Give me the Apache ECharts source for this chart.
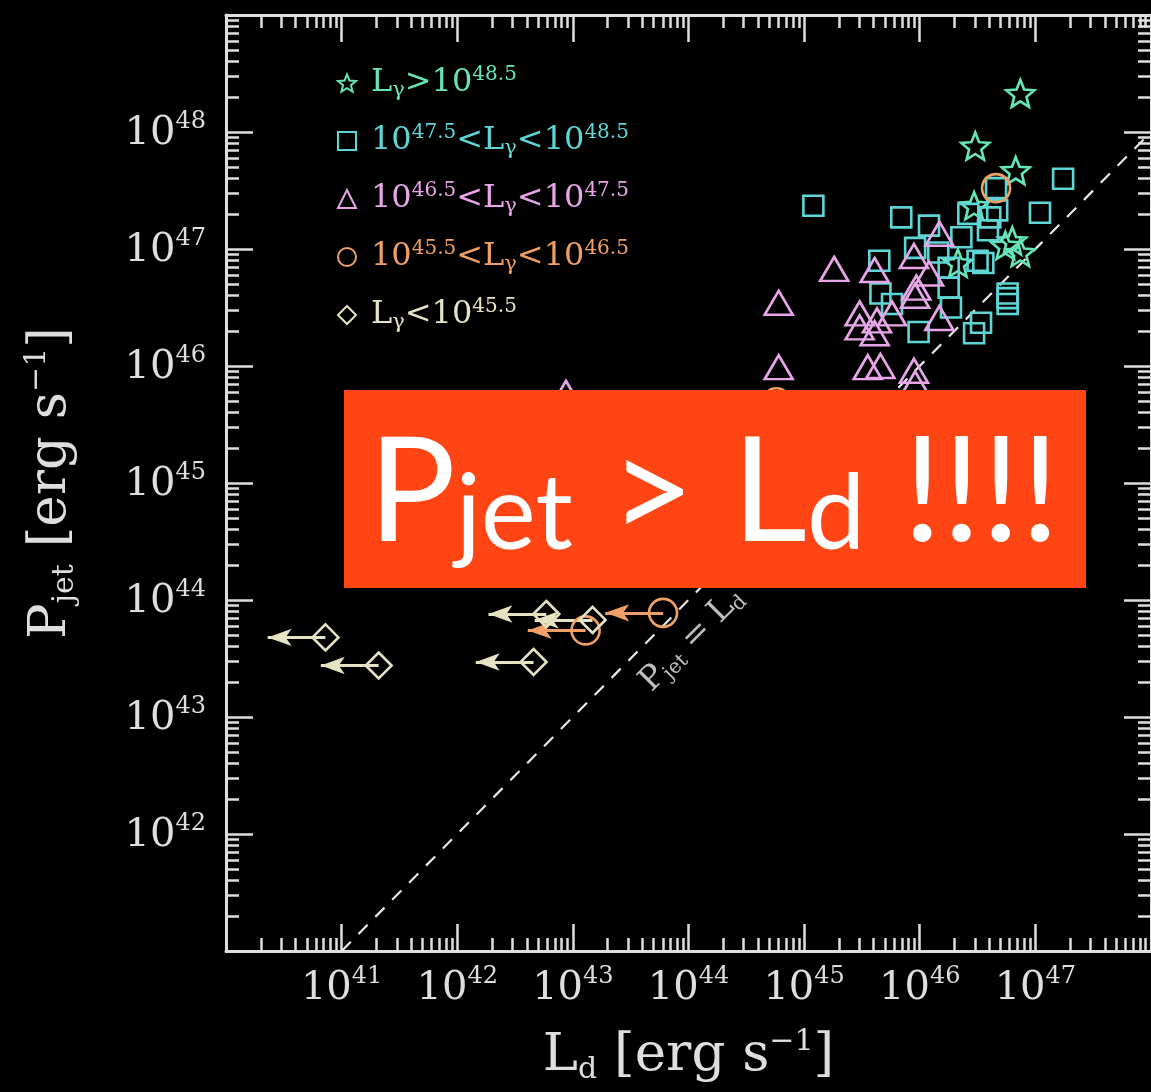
<!DOCTYPE html>
<html>
<head>
<meta charset="utf-8">
<script src="https://cdn.jsdelivr.net/npm/echarts@6/dist/echarts.min.js"></script>
<style>
  html, body { margin: 0; padding: 0; background: #000; }
  #chart { width: 1151px; height: 1092px; }
</style>
</head>
<body>
<div id="chart"></div>
<script>
// ---- data: log10 of disc luminance L_d and jet power P_jet (erg/s) ----
// L_gamma > 10^48.5
const starLogLd   = [46.87, 46.48, 46.83, 46.47, 46.80, 46.87, 46.74, 46.33];
const starLogPjet = [48.33, 47.88, 47.67, 47.37, 47.07, 46.97, 47.03, 46.88];

// 10^47.5 < L_gamma < 10^48.5
const squareLogLd   = [45.08, 47.24, 45.84, 46.08, 46.42, 46.61, 46.67, 46.59, 47.04, 46.36,
                       45.96, 46.16, 46.50, 46.55, 46.25, 45.65, 46.25, 45.66, 45.76, 46.27,
                       46.76, 46.76, 45.99, 46.53, 46.47, 46.66, 46.76];
const squareLogPjet = [47.37, 47.60, 47.27, 47.20, 47.30, 47.27, 47.33, 47.16, 47.31, 47.10,
                       47.01, 46.97, 46.90, 46.88, 46.84, 46.90, 46.67, 46.62, 46.53, 46.50,
                       46.62, 46.53, 46.29, 46.37, 46.28, 47.52, 46.58];

// 10^46.5 < L_gamma < 10^47.5
const triangleLogLd   = [44.78, 45.26, 45.61, 46.17, 45.95, 46.08, 45.97, 45.96, 45.48, 45.48,
                         45.63, 45.76, 45.61, 46.17, 44.78, 45.55, 45.66, 45.95, 45.96, 42.94];
const triangleLogPjet = [46.54, 46.83, 46.82, 47.13, 46.94, 46.79, 46.67, 46.60, 46.45, 46.33,
                         46.39, 46.45, 46.28, 46.41, 45.99, 45.99, 46.00, 45.96, 45.85, 45.77];

// 10^45.5 < L_gamma < 10^46.5 (true = L_d is an upper limit)
const circleLogLd      = [46.66, 44.76, 43.78, 43.11, 43.11, 43.55];
const circleLogPjet    = [47.52, 45.69, 43.89, 43.74, 44.24, 44.25];
const circleUpperLimit = [false, false, true, true, true, true];

// L_gamma < 10^45.5 (all L_d are upper limits)
const diamondLogLd   = [40.86, 41.32, 42.66, 43.17, 42.77];
const diamondLogPjet = [43.68, 43.44, 43.47, 43.83, 43.88];

// axis labels (exponents of 10)
const ldLabelExp   = [41, 42, 43, 44, 45, 46, 47];
const pjetLabelExp = [42, 43, 44, 45, 46, 47, 48];

// ---- styling ----
const SERIF = "'DejaVu Serif', 'Liberation Serif', serif";
const SANS = "Lato, 'Open Sans', sans-serif";
const FG = '#dedede';
const C_STAR = '#66e6b8';
const C_SQUARE = '#5ed6d6';
const C_TRIANGLE = '#e8a6e8';
const C_CIRCLE = '#f0a064';
const C_DIAMOND = '#e6e2c4';
const ARROW_DEX = 0.5;   // length of the upper-limit arrows, in decades
const STAR = 'path://M50 0 L62.93 32.2 L97.55 34.55 L70.92 56.8 L79.39 90.45 L50 72 L20.61 90.45 L29.08 56.8 L2.45 34.55 L37.07 32.2 Z';

const pow10 = v => Math.pow(10, v);
const toPoints = (lx, ly) => lx.map((v, i) => [pow10(v), pow10(ly[i])]);
function toArrows(lx, ly, flags) {
  const out = [];
  lx.forEach((v, i) => {
    if (!flags || flags[i]) {
      out.push({ coords: [[pow10(v), pow10(ly[i])], [pow10(v - ARROW_DEX), pow10(ly[i])]] });
    }
  });
  return out;
}
function decades(lo, hi) { const a = []; for (let e = lo; e <= hi; e++) a.push(pow10(e)); return a; }
function subDecades(lo, hi) {
  const a = [];
  for (let e = lo; e < hi; e++) for (let k = 2; k <= 9; k++) a.push(k * pow10(e));
  return a;
}
const expLabel = v => '{b|10}{e|' + Math.round(Math.log10(v)) + '}';
const tickRich = {
  b: { fontSize: 40, fontFamily: SERIF, color: FG, lineHeight: 44, verticalAlign: 'bottom' },
  e: { fontSize: 24, fontFamily: SERIF, color: FG, lineHeight: 24, verticalAlign: 'top' }
};
const titleRich = {
  p: { fontSize: 53, fontFamily: SERIF, color: FG, lineHeight: 58, verticalAlign: 'middle' },
  s: { fontSize: 30, fontFamily: SERIF, color: FG, lineHeight: 30, verticalAlign: 'bottom' },
  u: { fontSize: 30, fontFamily: SERIF, color: FG, lineHeight: 30, verticalAlign: 'top' }
};

function logAxis(pos, min, max, major, extra) {
  const base = {
    type: 'log', logBase: 10, position: pos, min: min, max: max,
    splitLine: { show: false },
    axisLine: { show: major, onZero: false, lineStyle: { color: FG, width: 3 } },
    axisTick: {
      show: true, inside: true, length: major ? 27 : 13,
      lineStyle: { color: FG, width: 2.5 }
    },
    axisLabel: { show: false }
  };
  return Object.assign(base, extra || {});
}

const xMin = 1e40, xMax = 1e48, yMin = 1e41, yMax = 1e49;
const xMajor = decades(40, 48), xMinor = subDecades(40, 48);
const yMajor = decades(41, 49), yMinor = subDecades(41, 49);

function withTicks(axis, values) { axis.axisTick.customValues = values; return axis; }

const xAxes = [
  withTicks(logAxis('bottom', xMin, xMax, true, {
    axisLabel: {
      show: true, customValues: ldLabelExp.map(pow10), formatter: expLabel,
      rich: tickRich, margin: 14, color: FG
    },
    name: '{p|L}{s|d}{p| [erg s}{u|−1}{p|]}',
    nameLocation: 'middle', nameGap: 76,
    nameTextStyle: { rich: titleRich }
  }), xMajor),
  withTicks(logAxis('bottom', xMin, xMax, false), xMinor),
  withTicks(logAxis('top', xMin, xMax, true), xMajor),
  withTicks(logAxis('top', xMin, xMax, false), xMinor)
];
const yAxes = [
  withTicks(logAxis('left', yMin, yMax, true, {
    axisLabel: {
      show: true, customValues: pjetLabelExp.map(pow10), formatter: expLabel,
      rich: tickRich, margin: 20, color: FG
    },
    name: '{p|P}{s|jet}{p| [erg s}{u|−1}{p|]}',
    nameLocation: 'middle', nameGap: 146, nameRotate: 90,
    nameTextStyle: { rich: titleRich }
  }), yMajor),
  withTicks(logAxis('left', yMin, yMax, false), yMinor),
  withTicks(logAxis('right', yMin, yMax, true), yMajor),
  withTicks(logAxis('right', yMin, yMax, false), yMinor)
];

// legend entries: series name -> rich label
const NAMES = {
  star: 'Lγ>10^48.5',
  square: '10^47.5<Lγ<10^48.5',
  triangle: '10^46.5<Lγ<10^47.5',
  circle: '10^45.5<Lγ<10^46.5',
  diamond: 'Lγ<10^45.5'
};
const legendText = {};
legendText[NAMES.star]     = '{g| }{m|L}{b|γ}{m|>10}{t|48.5}';
legendText[NAMES.square]   = '{g| }{m|10}{t|47.5}{m|<L}{b|γ}{m|<10}{t|48.5}';
legendText[NAMES.triangle] = '{g| }{m|10}{t|46.5}{m|<L}{b|γ}{m|<10}{t|47.5}';
legendText[NAMES.circle]   = '{g| }{m|10}{t|45.5}{m|<L}{b|γ}{m|<10}{t|46.5}';
legendText[NAMES.diamond]  = '{g| }{m|L}{b|γ}{m|<10}{t|45.5}';

function legendRich(color) {
  return {
    g: { width: 10, fontSize: 10 },
    m: { fontSize: 32, fontFamily: SERIF, color: color, lineHeight: 36, verticalAlign: 'middle' },
    b: { fontSize: 21, fontFamily: SERIF, color: color, lineHeight: 21, verticalAlign: 'bottom' },
    t: { fontSize: 20, fontFamily: SERIF, color: color, lineHeight: 20, verticalAlign: 'top' }
  };
}
const legendItem = (name, color) => ({ name: name, textStyle: { color: color, rich: legendRich(color) } });

function markerSeries(name, symbol, size, color, data) {
  return {
    type: 'scatter', name: name, symbol: symbol, symbolSize: size, data: data,
    itemStyle: { color: 'rgba(0,0,0,0)', borderColor: color, borderWidth: 2.6, opacity: 1 },
    emphasis: { disabled: true }, z: 3
  };
}
function arrowSeries(color, data) {
  return {
    type: 'lines', coordinateSystem: 'cartesian2d', data: data,
    symbol: ['none', 'arrow'], symbolSize: [0, [13, 24]],
    lineStyle: { color: color, width: 3, opacity: 1, curveness: 0 },
    silent: true, z: 2
  };
}

const option = {
  backgroundColor: '#000',
  animation: false,
  grid: { left: 226, top: 15, width: 937, height: 936, containLabel: false },
  xAxis: xAxes,
  yAxis: yAxes,
  legend: {
    orient: 'vertical', left: 332, top: 60,
    itemWidth: 18, itemHeight: 18, itemGap: 22,
    selectedMode: false,
    itemStyle: { borderWidth: 2 },
    formatter: name => legendText[name],
    data: [
      legendItem(NAMES.star, C_STAR),
      legendItem(NAMES.square, C_SQUARE),
      legendItem(NAMES.triangle, C_TRIANGLE),
      legendItem(NAMES.circle, C_CIRCLE),
      legendItem(NAMES.diamond, C_DIAMOND)
    ]
  },
  series: [
    // P_jet = L_d
    {
      type: 'line', data: [[1e41, 1e41], [1e48, 1e48]],
      symbol: 'none', silent: true, z: 1,
      lineStyle: { color: '#e8e8e8', width: 2.2, type: [13, 11] }
    },
    {
      type: 'scatter', silent: true, z: 4,
      data: [[pow10(44.03), pow10(43.66)]],
      symbolSize: 1, itemStyle: { color: 'rgba(0,0,0,0)' },
      label: {
        show: true, position: 'inside', rotate: 45,
        formatter: '{p|P}{s|jet}{p| = L}{s|d}',
        rich: {
          p: { fontSize: 33, fontFamily: SERIF, color: '#eeeeee', lineHeight: 36, verticalAlign: 'middle' },
          s: { fontSize: 20, fontFamily: SERIF, color: '#eeeeee', lineHeight: 20, verticalAlign: 'bottom' }
        }
      }
    },
    arrowSeries(C_DIAMOND, toArrows(diamondLogLd, diamondLogPjet)),
    arrowSeries(C_CIRCLE, toArrows(circleLogLd, circleLogPjet, circleUpperLimit)),
    markerSeries(NAMES.star, STAR, [28, 27], C_STAR, toPoints(starLogLd, starLogPjet)),
    markerSeries(NAMES.square, 'rect', 20, C_SQUARE, toPoints(squareLogLd, squareLogPjet)),
    markerSeries(NAMES.triangle, 'triangle', [28, 24], C_TRIANGLE, toPoints(triangleLogLd, triangleLogPjet)),
    markerSeries(NAMES.circle, 'circle', 28, C_CIRCLE, toPoints(circleLogLd, circleLogPjet)),
    markerSeries(NAMES.diamond, 'diamond', 26, C_DIAMOND, toPoints(diamondLogLd, diamondLogPjet))
  ],
  graphic: [
    {
      type: 'rect', z: 100,
      shape: { x: 344, y: 390, width: 742, height: 198 },
      style: { fill: '#ff4514' }
    },
    {
      type: 'text', z: 101, x: 714, y: 494,
      style: {
        text: '{p|P}{s|jet}{p| > L}{s|d}{p| !!!!}',
        align: 'center', verticalAlign: 'middle',
        rich: {
          p: { fontSize: 146, fontFamily: SANS, fill: '#ffffff', lineHeight: 146, verticalAlign: 'bottom' },
          s: { fontSize: 104, fontFamily: SANS, fill: '#ffffff', lineHeight: 112, verticalAlign: 'bottom' }
        }
      }
    }
  ]
};

const chart = echarts.init(document.getElementById('chart'), null, { renderer: 'canvas' });
chart.setOption(option);
</script>
</body>
</html>
